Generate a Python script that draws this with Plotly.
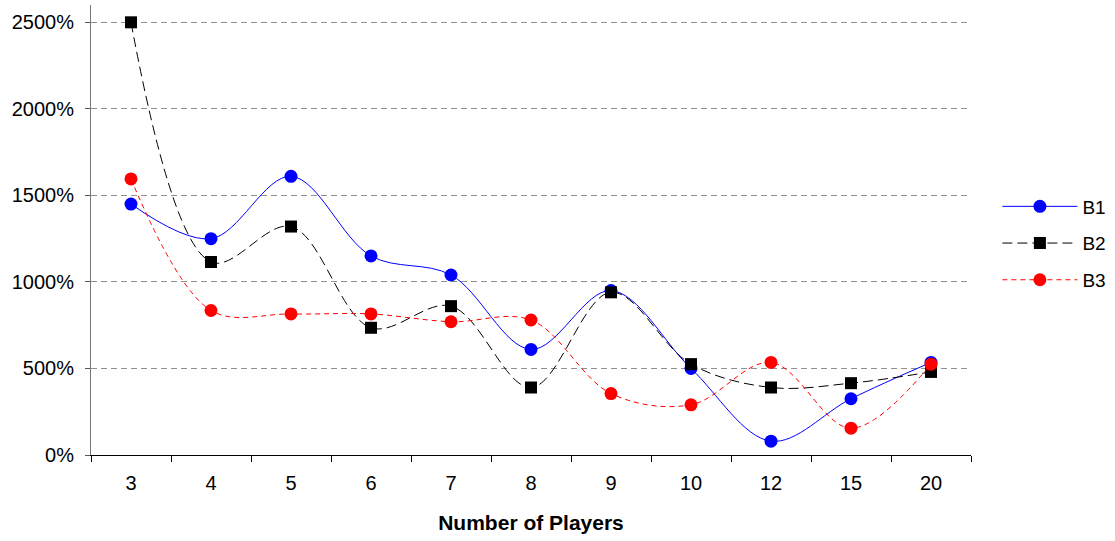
import plotly.graph_objects as go

players = ["3", "4", "5", "6", "7", "8", "9", "10", "12", "15", "20"]
b1 = [1450, 1250, 1610, 1150, 1040, 610, 950, 500, 80, 325, 535]
b2 = [2500, 1115, 1320, 735, 860, 390, 940, 525, 390, 415, 480]
b3 = [1595, 835, 815, 815, 770, 780, 355, 290, 535, 155, 525]
y_ticks = [0, 500, 1000, 1500, 2000, 2500]
y_tick_labels = [f"{v}%" for v in y_ticks]

fig = go.Figure()
fig.add_trace(go.Scatter(
    x=players, y=b1, name="B1", mode="lines+markers", legendgroup="a",
    line=dict(color="#0000FF", width=1, shape="spline", smoothing=1),
    marker=dict(symbol="circle", size=13, color="#0000FF")))
fig.add_trace(go.Scatter(
    x=players, y=b2, name="B2", mode="lines+markers", legendgroup="b",
    line=dict(color="#000000", width=1, shape="spline", smoothing=1, dash="10px,5px"),
    marker=dict(symbol="square", size=12, color="#000000")))
fig.add_trace(go.Scatter(
    x=players, y=b3, name="B3", mode="lines+markers", legendgroup="c",
    line=dict(color="#FF0000", width=1, shape="spline", smoothing=1, dash="5px,4px"),
    marker=dict(symbol="circle", size=13, color="#FF0000")))

fig.update_layout(
    width=1115, height=541,
    margin=dict(l=91, r=144, t=5, b=86, autoexpand=False),
    plot_bgcolor="white", paper_bgcolor="white",
    font=dict(family="Liberation Sans, Arial, sans-serif", size=20, color="black"),
    legend=dict(x=1.03, y=0.47, xanchor="left", yanchor="middle",
                tracegroupgap=9, font=dict(size=19), itemwidth=75,
                traceorder="grouped"),
    xaxis=dict(
        type="category", range=[-0.5, 10.5], tickson="boundaries",
        ticks="outside", ticklen=6, ticklabelstandoff=10,
        tickcolor="#000000", showline=True, linecolor="#000000", linewidth=1,
        showgrid=False, zeroline=False,
        title=dict(text="<b>Number of Players</b>", font=dict(size=21), standoff=22),
    ),
    yaxis=dict(
        range=[0, 2600], tickmode="array", tickvals=y_ticks, ticktext=y_tick_labels,
        ticks="outside", ticklen=5, tickcolor="#555555", ticklabelstandoff=7,
        showline=True, linecolor="#777777", linewidth=1,
        showgrid=True, gridcolor="#909090", griddash="6px,4px", gridwidth=1,
        zeroline=False,
    ),
)

fig.write_html("out.html", config={"displayModeBar": False},
               post_script="document.body.style.margin='0';")
